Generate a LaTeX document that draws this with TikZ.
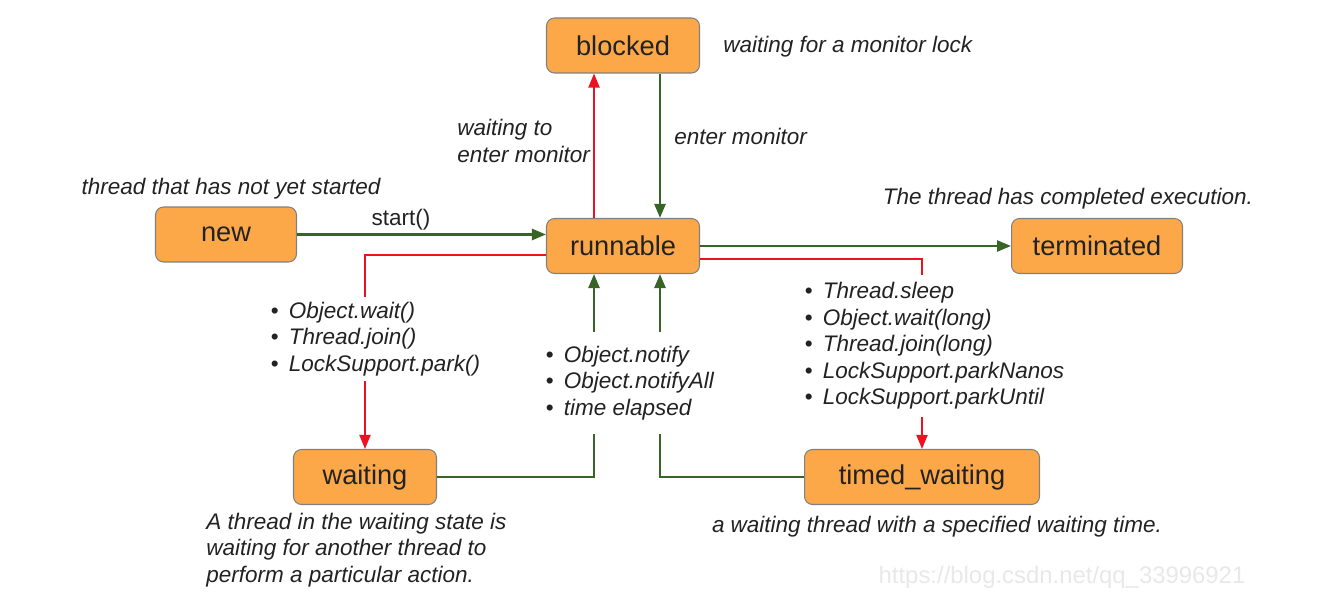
\documentclass[tikz,border=0pt]{standalone}
\usepackage{fontspec}
\setmainfont{Liberation Sans}
\usetikzlibrary{arrows.meta}
\definecolor{boxfill}{RGB}{252,168,72}
\definecolor{boxline}{RGB}{128,128,128}
\definecolor{okgreen}{RGB}{56,100,38}
\definecolor{lockred}{RGB}{236,18,32}
\definecolor{ink}{RGB}{34,34,34}
\newcommand{\bul}{\textup{\textbullet}\hspace{0.45em}}

\tikzset{
  state/.style={draw=boxline,fill=boxfill,rounded corners=0.16cm,minimum height=1.1cm,
    font=\fontsize{15.5}{18}\selectfont,text=ink,line width=0.6pt},
  note/.style={font=\fontsize{12.8}{15.1}\selectfont\itshape,text=ink,align=left,inner sep=0pt},
  go/.style={draw=okgreen,line width=1.4pt,-{Triangle[length=0.28cm,width=0.22cm]}},
  wait/.style={draw=lockred,line width=1.1pt,-{Triangle[length=0.28cm,width=0.22cm]}}
}

\begin{document}
\begin{tikzpicture}[x=0.02cm,y=-0.02cm]
\useasboundingbox (0,0) rectangle (1331,614);
\node[state,minimum width=3.06cm] (blocked) at (623,45.5) {blocked};
\node[state,minimum width=2.82cm] (new) at (226,234.5) {new};
\node[state,minimum width=3.06cm] (runnable) at (623,246) {runnable};
\node[state,minimum width=3.42cm] (terminated) at (1097,246) {terminated};
\node[state,minimum width=2.86cm] (waiting) at (365,477) {waiting};
\node[state,minimum width=4.7cm] (timed) at (922,477) {timed\_waiting};

\draw[go] (new.east) -- (new.east -| runnable.west);
\draw[go] (runnable.east) -- (terminated.west);
\draw[wait] ([xshift=-0.58cm]runnable.north) -- ([xshift=-0.58cm]blocked.south);
\draw[go] ([xshift=0.74cm]blocked.south) -- ([xshift=0.74cm]runnable.north);
\draw[wait] ([yshift=-0.18cm]runnable.west) -| (waiting.north);
\draw[wait] ([yshift=-0.26cm]runnable.east) -| (timed.north);
\draw[go] (waiting.east) -| ([xshift=-0.58cm]runnable.south);
\draw[go] (timed.west) -| ([xshift=0.74cm]runnable.south);

\node[note,anchor=west] (lockText) at (723,47) {waiting for a monitor lock};
\node[note,anchor=west] (toEnter) at (457,141) {waiting to\\enter monitor};
\node[note,anchor=west] (enter) at (674,136) {enter monitor};
\node[note] (newText) at (231,189) {thread that has not yet started};
\node[note,font=\fontsize{12.8}{15.1}\selectfont] (start) at (401,220) {start()};
\node[note] (termText) at (1068,199) {The thread has completed execution.};
\node[note,anchor=west,fill=white,inner xsep=2pt,inner ysep=3pt] (waitCalls) at (267,339)
  {\bul Object.wait()\\\bul Thread.join()\\\bul LockSupport.park()};
\node[note,anchor=west,fill=white,inner xsep=2pt,inner ysep=0.14cm] (timedCalls) at (801,346)
  {\bul Thread.sleep\\\bul Object.wait(long)\\\bul Thread.join(long)\\\bul LockSupport.parkNanos\\\bul LockSupport.parkUntil};
\node[note,anchor=west,fill=white,inner xsep=2pt,inner ysep=0.28cm] (wakeCalls) at (542,383)
  {\bul Object.notify\\\bul Object.notifyAll\\\bul time elapsed};
\node[note,anchor=west] (waitText) at (206,550)
  {A thread in the waiting state is\\waiting for another thread to\\perform a particular action.};
\node[note] (timedText) at (937,527) {a waiting thread with a specified waiting time.};
\node[font=\fontsize{13.6}{16}\selectfont,text=black!9,inner sep=0pt] (mark) at (1062,577) {https://blog.csdn.net/qq\_33996921};
\end{tikzpicture}
\end{document}
